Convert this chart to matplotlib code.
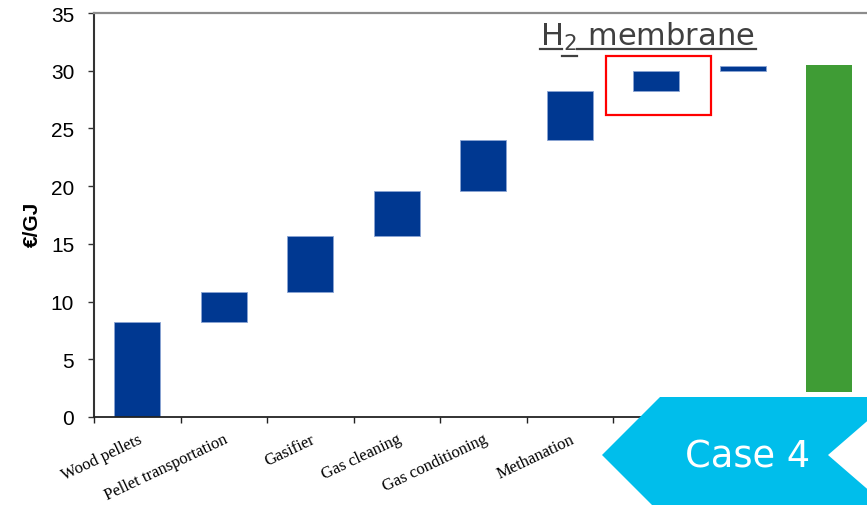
import matplotlib

matplotlib.use("Agg")
import matplotlib.pyplot as plt  # noqa: E402
import numpy as np  # noqa: E402
from matplotlib.patches import Polygon, Rectangle  # noqa: E402

# cost build-up per process step, EUR/GJ
steps = ["Wood pellets", "Pellet transportation", "Gasifier", "Gas cleaning",
         "Gas conditioning", "Methanation", "H2 membrane", "Other"]
step_cost = [8.25, 2.6, 4.85, 3.9, 4.4, 4.2, 1.8, 0.45]
total_low, total_high = 2.2, 30.5
tick_labels = ["Wood pellets", "Pellet transportation", "Gasifier", "Gas cleaning",
               "Gas conditioning", "Methanation", "", "", ""]
y_ticks = [0, 5, 10, 15, 20, 25, 30, 35]

BLUE = "#003891"
GREEN = "#3F9C35"
CYAN = "#00BEEB"
W, H = 867, 506

fig = plt.figure(figsize=(W / 100, H / 100), dpi=100)
ax = fig.add_axes([94 / W, 1 - 418 / H, 778.5 / W, 404 / H])

tops = np.cumsum(step_cost)
bottoms = tops - np.array(step_cost)
x = np.arange(len(steps))
ax.bar(x, tops - bottoms, bottom=bottoms, width=0.53, color=BLUE,
       edgecolor="#8aa4d4", linewidth=0.6)
ax.bar(len(steps), total_high - total_low, bottom=total_low, width=0.53, color=GREEN)

ax.set_xlim(-0.5, len(tick_labels) - 0.5)
ax.set_ylim(0, 35)
ax.set_yticks(y_ticks)
ax.set_yticklabels([str(v) for v in y_ticks], fontsize=15, family="Liberation Sans")
ax.tick_params(axis="y", length=4.3, width=1, color="#333333", pad=10)

ax.set_xticks(np.arange(len(tick_labels)))
ax.set_xticklabels(tick_labels)
for lab in ax.get_xticklabels():
    lab.set(family="Liberation Serif", fontsize=12, rotation=25.5, ha="right", va="top",
            rotation_mode="anchor")
ax.tick_params(axis="x", which="major", length=0, pad=10)
ax.set_xticks(np.arange(len(tick_labels) + 1) - 0.5, minor=True)
ax.tick_params(axis="x", which="minor", length=4, width=1, color="#222222")

ax.spines["right"].set_visible(False)
ax.spines["top"].set_color("#8c8c8c")
ax.spines["top"].set_linewidth(1.6)
ax.spines["left"].set_color("#333333")
ax.spines["left"].set_linewidth(1.5)
ax.spines["bottom"].set_color("#222222")
ax.spines["bottom"].set_linewidth(1.3)

fig.text(32 / W, 1 - 224 / H, "€/GJ", rotation=90, ha="center", va="center",
         fontsize=15, fontweight="bold", family="Liberation Sans")

# highlight box around the membrane step
mem = steps.index("H2 membrane")
ax.add_patch(Rectangle((mem - 0.584, bottoms[mem] - 2.0), 1.22, tops[mem] - bottoms[mem] + 3.3,
                       fill=False, edgecolor="#ff0000", linewidth=1.6, clip_on=False))

fig.text(540 / W, 1 - 46 / H, "H$_2$ membrane", ha="left", va="baseline",
         fontsize=22, color="#404040", family="DejaVu Sans")
# underline, dropped under the subscript
for x0, x1, yy in [(540, 562, 50), (562, 577, 57), (577, 756, 50)]:
    fig.add_artist(plt.Line2D([x0 / W, x1 / W], [1 - yy / H, 1 - yy / H],
                              color="#404040", linewidth=1.6))

# case banner, chevron in figure pixels
pts = [(602, 456), (660, 398), (895, 398), (828, 456), (895, 514), (660, 514)]
fig.add_artist(Polygon([(px / W, 1 - py / H) for px, py in pts], closed=True,
                       facecolor=CYAN, edgecolor="none", transform=fig.transFigure))
fig.text(748 / W, 1 - 468 / H, "Case 4", ha="center", va="baseline",
         fontsize=26.5, color="white", family="DejaVu Sans")

fig.savefig("out.png", dpi=100)
